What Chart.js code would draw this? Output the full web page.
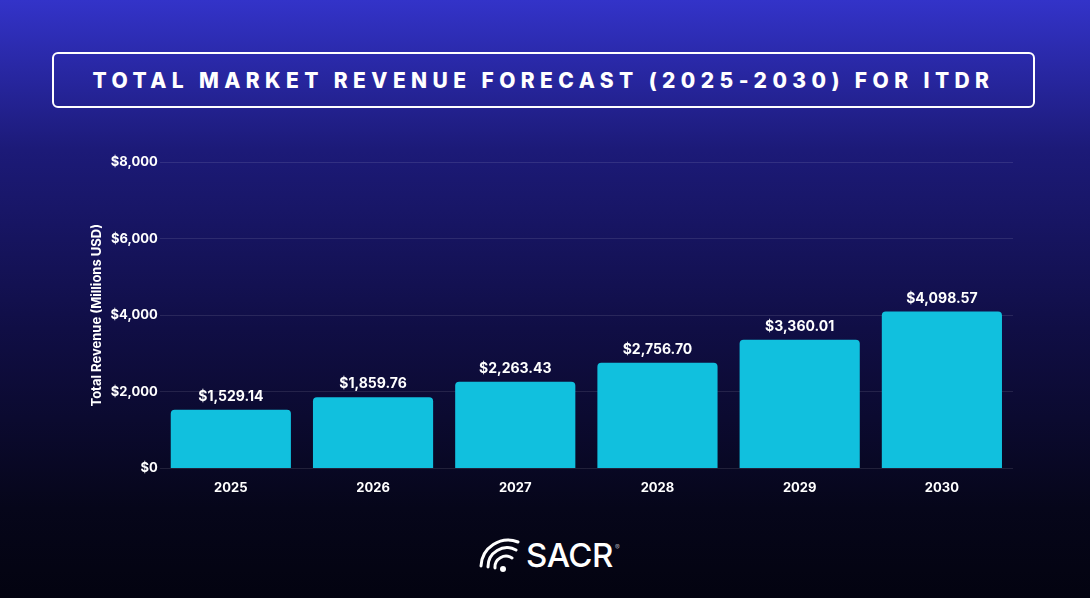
<!DOCTYPE html>
<html>
<head>
<meta charset="utf-8">
<script src="https://cdn.jsdelivr.net/npm/chart.js@4"></script>
<style>
  html, body { margin: 0; padding: 0; }
  body {
    width: 1090px; height: 598px; overflow: hidden; position: relative;
    background: linear-gradient(to bottom, #3333c9 0%, #1c1a78 25%, #100e45 55%, #06061a 85%, #030310 100%);
    font-family: Inter, 'Open Sans', sans-serif;
  }
  .title {
    position: absolute; left: 52px; top: 52px; width: 979px; height: 52px;
    border: 2px solid #fff; border-radius: 6px;
    color: #fff; font-weight: 800; font-size: 21px; letter-spacing: 5.4px;
    display: flex; align-items: center; justify-content: center;
  }
  .chart { position: absolute; left: 0; top: 140px; width: 1090px; height: 360px; }
  .logo {
    position: absolute; left: 478px; top: 535px; height: 40px;
    display: flex; align-items: center; color: #fff;
  }
  .logo span { font-size: 33px; font-weight: 500; letter-spacing: -0.5px; margin-left: 4px; }
  .logo sup { font-size: 7px; opacity: 0.6; align-self: flex-start; margin-top: 8px; margin-left: 2px; }
</style>
</head>
<body>
<div class="title">TOTAL MARKET REVENUE FORECAST (2025-2030) FOR ITDR</div>
<div class="chart"><canvas id="myChart"></canvas></div>
<div class="logo">
  <svg width="44" height="38" viewBox="0 0 44 38">
    <g fill="none" stroke="#fff" stroke-width="3" stroke-linecap="round">
      <path d="M3 30 A27 27 0 0 1 40 6"/>
      <path d="M10 31 A19 19 0 0 1 38 14"/>
      <path d="M17 32 A11 11 0 0 1 34 22"/>
    </g>
    <circle cx="25" cy="33" r="3" fill="#fff"/>
  </svg>
  <span>SACR</span><sup>®</sup>
</div>
<script>
const years = ['2025', '2026', '2027', '2028', '2029', '2030']
const revenue = [1529.14, 1859.76, 2263.43, 2756.70, 3360.01, 4098.57]

const fmt = (v, d) => '$' + v.toLocaleString('en-US', { minimumFractionDigits: d, maximumFractionDigits: d })

// etiquetas em cima das barras
const valueLabels = {
    id: 'valueLabels',
    afterDatasetsDraw(chart) {
        const ctx = chart.ctx
        const meta = chart.getDatasetMeta(0)
        ctx.save()
        ctx.fillStyle = '#fff'
        ctx.font = '700 14px Inter'
        ctx.textAlign = 'center'
        ctx.textBaseline = 'bottom'
        meta.data.forEach((bar, i) => {
            ctx.fillText(fmt(revenue[i], 2), bar.x, bar.y - 6)
        })
        ctx.restore()
    }
}

const cfg = {
    type: 'bar',
    data: {
        labels: years,
        datasets: [{
            data: revenue,
            backgroundColor: '#11c0de',
            borderRadius: { topLeft: 4, topRight: 4 },
            borderSkipped: 'bottom',
            barPercentage: 0.845,
            categoryPercentage: 1
        }]
    },
    options: {
        maintainAspectRatio: false,
        responsive: true,
        animation: false,
        layout: { padding: { left: 85, right: 77, top: 22, bottom: 0 } },
        scales: {
            x: {
                grid: { display: false },
                border: { display: false },
                ticks: { color: '#fff', font: { family: 'Inter', weight: '700', size: 13 }, padding: 4 }
            },
            y: {
                min: 0,
                max: 8000,
                ticks: {
                    stepSize: 2000,
                    color: '#fff',
                    padding: 2,
                    font: { family: 'Inter', weight: '700', size: 13 },
                    callback: (v) => fmt(v, 0)
                },
                grid: { color: 'rgba(255,255,255,0.1)', drawTicks: false },
                border: { display: false },
                title: {
                    display: true,
                    text: 'Total Revenue (Millions USD)',
                    color: '#fff',
                    font: { family: 'Inter', weight: '700', size: 13 },
                    padding: { bottom: 4 }
                }
            }
        },
        plugins: {
            legend: { display: false },
            tooltip: { enabled: false }
        }
    },
    plugins: [valueLabels]
}

const ctx = document.getElementById('myChart').getContext('2d')
// eslint-disable-next-line no-undef
const myChart = new Chart(ctx, cfg)
</script>
</body>
</html>
